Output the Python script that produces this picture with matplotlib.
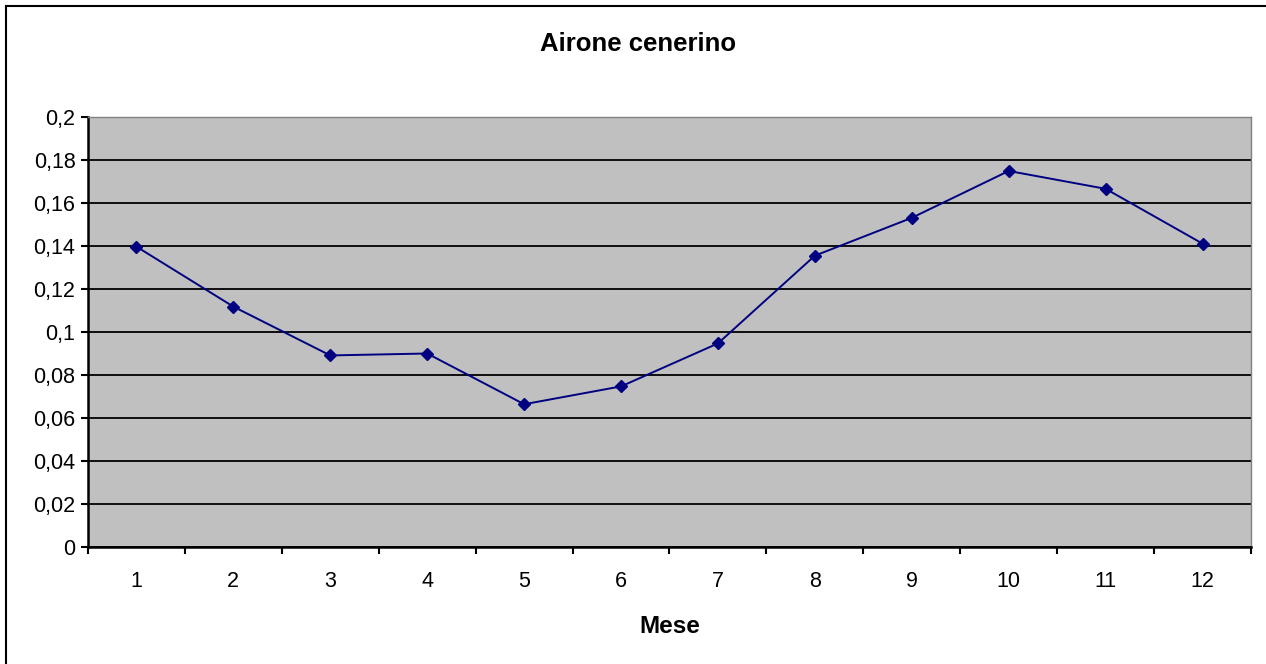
import matplotlib
matplotlib.use("Agg")
import matplotlib.pyplot as plt
from matplotlib.ticker import FuncFormatter, MultipleLocator

# Dati
mesi = [1, 2, 3, 4, 5, 6, 7, 8, 9, 10, 11, 12]
valori = [0.1397, 0.1118, 0.0891, 0.0900, 0.0664, 0.0747,
          0.0947, 0.1355, 0.1531, 0.1749, 0.1666, 0.1411]

plt.rcParams['font.family'] = ['Liberation Sans', 'DejaVu Sans']

fig = plt.figure(figsize=(12.66, 6.64), dpi=100)
# bordo esterno (solo alto e sinistra visibili)
fig.add_artist(plt.Line2D([6/1266, 6/1266], [0, 1 - 6/664], color='black', lw=1.5))
fig.add_artist(plt.Line2D([6/1266, 1], [1 - 6/664, 1 - 6/664], color='black', lw=1.5))

ax = fig.add_axes([88/1266, 117/664, (1251-88)/1266, (547-117)/664])
ax.set_facecolor('#C0C0C0')

ax.plot(mesi, valori, color='#000080', lw=1.4, marker='D', markersize=6.5,
        markerfacecolor='#000080', markeredgecolor='#000080', zorder=3)

ax.set_xlim(0.5, 12.5)
ax.set_ylim(0, 0.2)
ax.yaxis.set_major_locator(MultipleLocator(0.02))
ax.yaxis.set_major_formatter(FuncFormatter(
    lambda v, p: '0' if abs(v) < 1e-9 else ('%g' % round(v, 2)).replace('.', ',')))
ax.grid(axis='y', color='black', lw=1.3, zorder=1)
ax.set_axisbelow(True)

ax.set_xticks(mesi)
ax.set_xticklabels([str(m) for m in mesi])
ax.set_xticks([m + 0.5 for m in range(0, 13)], minor=True)
ax.tick_params(axis='x', which='major', length=0, pad=17, labelsize=15.5)
ax.tick_params(axis='x', which='minor', length=5, width=1.5, direction='out')
ax.tick_params(axis='y', length=5, width=1.5, direction='out', labelsize=15.5, pad=4)

for s in ['left', 'bottom']:
    ax.spines[s].set_linewidth(1.8)
    ax.spines[s].set_color('black')
for s in ['top', 'right']:
    ax.spines[s].set_linewidth(1)
    ax.spines[s].set_color('#808080')

ax.set_xlabel('Mese', fontsize=17.5, fontweight='bold', labelpad=17)
fig.text(638/1266, 1 - 44/664, 'Airone cenerino', ha='center', va='center',
         fontsize=18.5, fontweight='bold')

fig.savefig('out.png', dpi=100)
